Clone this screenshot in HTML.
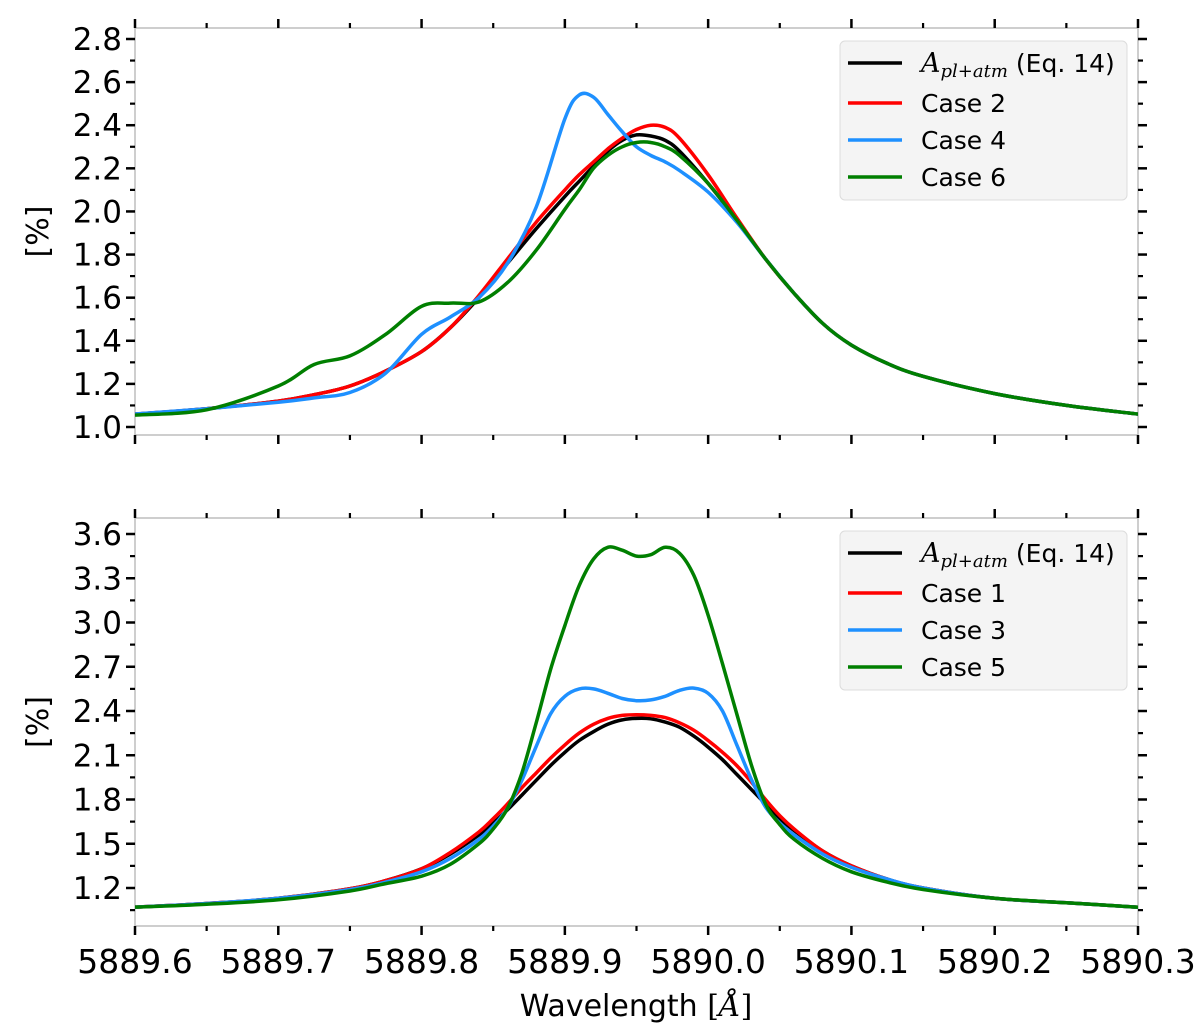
<!DOCTYPE html>
<html><head><meta charset="utf-8"><style>
body{margin:0;background:#fff}
svg{display:block;font-family:"DejaVu Sans","Liberation Sans",sans-serif}
</style></head><body>
<svg id="chart" width="1200" height="1026" viewBox="0 0 1200 1026" xmlns="http://www.w3.org/2000/svg"></svg>
<script>
// ---- data ----
const topWave=[5889.60,5889.65,5889.70,5889.725,5889.75,5889.775,5889.80,5889.82,5889.84,5889.86,5889.88,5889.90,5889.91,5889.92,5889.93,5889.94,5889.95,5889.96,5889.97,5889.98,5890.00,5890.02,5890.04,5890.06,5890.08,5890.10,5890.125,5890.15,5890.20,5890.25,5890.30];
const topBlack=[1.06,1.085,1.12,1.15,1.19,1.26,1.35,1.46,1.60,1.76,1.92,2.07,2.14,2.21,2.28,2.33,2.355,2.35,2.33,2.28,2.13,1.96,1.78,1.62,1.48,1.38,1.295,1.235,1.155,1.10,1.06];
const topCase2=[1.06,1.085,1.12,1.15,1.19,1.26,1.35,1.46,1.61,1.78,1.95,2.10,2.17,2.23,2.29,2.34,2.38,2.40,2.39,2.34,2.17,1.97,1.78,1.62,1.48,1.38,1.295,1.235,1.155,1.10,1.06];
const topCase4=[1.06,1.085,1.115,1.135,1.16,1.25,1.43,1.51,1.60,1.76,2.02,2.43,2.54,2.53,2.45,2.37,2.30,2.26,2.23,2.19,2.09,1.95,1.78,1.62,1.48,1.38,1.295,1.235,1.155,1.10,1.06];
const topCase6=[1.055,1.08,1.19,1.29,1.33,1.43,1.56,1.575,1.58,1.67,1.82,2.01,2.10,2.20,2.26,2.30,2.32,2.32,2.30,2.26,2.13,1.96,1.78,1.62,1.48,1.38,1.295,1.235,1.155,1.10,1.06];
const botWave=[5889.60,5889.65,5889.70,5889.75,5889.775,5889.80,5889.82,5889.84,5889.85,5889.86,5889.87,5889.88,5889.89,5889.90,5889.91,5889.92,5889.93,5889.94,5889.95,5889.96,5889.97,5889.98,5889.99,5890.00,5890.01,5890.02,5890.03,5890.04,5890.05,5890.06,5890.08,5890.10,5890.125,5890.15,5890.20,5890.25,5890.30];
const botBlack=[1.07,1.095,1.13,1.195,1.25,1.33,1.43,1.56,1.64,1.73,1.83,1.93,2.03,2.12,2.20,2.26,2.31,2.34,2.35,2.347,2.325,2.29,2.23,2.155,2.07,1.97,1.87,1.77,1.67,1.59,1.45,1.35,1.26,1.20,1.13,1.10,1.07];
const botCase1=[1.07,1.095,1.13,1.195,1.25,1.33,1.44,1.58,1.67,1.77,1.88,1.98,2.08,2.17,2.25,2.31,2.35,2.37,2.375,2.37,2.355,2.32,2.27,2.20,2.12,2.03,1.92,1.80,1.69,1.60,1.45,1.35,1.26,1.20,1.13,1.10,1.07];
const botCase3=[1.07,1.095,1.13,1.19,1.24,1.31,1.40,1.53,1.62,1.74,1.93,2.16,2.38,2.50,2.55,2.55,2.52,2.485,2.47,2.475,2.50,2.54,2.555,2.52,2.40,2.17,1.94,1.75,1.64,1.56,1.43,1.34,1.26,1.20,1.13,1.10,1.07];
const botCase5=[1.07,1.09,1.12,1.18,1.23,1.28,1.36,1.50,1.60,1.74,1.98,2.32,2.68,2.98,3.25,3.43,3.51,3.49,3.45,3.46,3.51,3.47,3.32,3.05,2.72,2.38,2.04,1.77,1.63,1.53,1.40,1.31,1.24,1.19,1.13,1.10,1.07];
const xTicks=[5889.6,5889.7,5889.8,5889.9,5890.0,5890.1,5890.2,5890.3];
const topYTicks=[1.0,1.2,1.4,1.6,1.8,2.0,2.2,2.4,2.6,2.8];
const botYTicks=[1.2,1.5,1.8,2.1,2.4,2.7,3.0,3.3,3.6];
const topLegend=["Case 2","Case 4","Case 6"];
const botLegend=["Case 1","Case 3","Case 5"];
// ---- drawing ----
const NS="http://www.w3.org/2000/svg";
const svg=document.getElementById('chart');
function mk(tag,attrs,parent){const e=document.createElementNS(NS,tag);for(const k in attrs)e.setAttribute(k,attrs[k]);(parent||svg).appendChild(e);return e;}
const X0=135,X1=1138;
const xScale=w=>X0+(w-5889.6)/0.7*(X1-X0);
function makeY(v0,p0,v1,p1){return v=>p0+(v-v0)/(v1-v0)*(p1-p0);}
const panels=[
 {top:28,bot:435,y:makeY(1.0,427,2.8,39),yt:topYTicks,minorStep:0.1,minorMin:0.95,minorMax:2.85,series:[topBlack,topCase2,topCase4,topCase6],wave:topWave,leg:topLegend,legY:41,name:'top'},
 {top:518,bot:926,y:makeY(1.2,888,3.6,534),yt:botYTicks,minorStep:0.15,minorMin:1.05,minorMax:3.7,series:[botBlack,botCase1,botCase3,botCase5],wave:botWave,leg:botLegend,legY:531,name:'bottom'}
];
const colors=['#000000','#ff0000','#1e90ff','#007f00'];
function smoothPath(pts){let d=`M${pts[0][0]},${pts[0][1]}`;for(let i=0;i<pts.length-1;i++){const p0=pts[Math.max(0,i-1)],p1=pts[i],p2=pts[i+1],p3=pts[Math.min(pts.length-1,i+2)];const c1=[p1[0]+(p2[0]-p0[0])/6,p1[1]+(p2[1]-p0[1])/6],c2=[p2[0]-(p3[0]-p1[0])/6,p2[1]-(p3[1]-p1[1])/6];d+=` C${c1[0].toFixed(1)},${c1[1].toFixed(1)} ${c2[0].toFixed(1)},${c2[1].toFixed(1)} ${p2[0].toFixed(1)},${p2[1].toFixed(1)}`;}return d;}
panels.forEach((P,pi)=>{
 const g=mk('g',{});
 
 
 const fr=mk('rect',{x:X0,y:P.top,width:X1-X0,height:P.bot-P.top,fill:'none',stroke:'#bdbdbd','stroke-width':1.5},g);
 
 
 for(let i=0;i<=14;i++){const w=5889.6+i*0.05,x=xScale(w),maj=i%2===0,L=maj?9:5;
  mk('line',{x1:x,x2:x,y1:P.top,y2:P.top-L,stroke:'#000','stroke-width':maj?2.5:2.2},g);
  mk('line',{x1:x,x2:x,y1:P.bot,y2:P.bot+L,stroke:'#000','stroke-width':maj?2.5:2.2},g);}
 P.yt.forEach(v=>{const y=P.y(v);
  mk('line',{x1:X0,x2:X0-9,y1:y,y2:y,stroke:'#000','stroke-width':2.5},g);
  mk('line',{x1:X1,x2:X1+9,y1:y,y2:y,stroke:'#000','stroke-width':2.5},g);
  const t=mk('text',{x:X0-13,y:y+11,'text-anchor':'end','font-size':31,fill:'#000'},g);t.textContent=v.toFixed(1);
  
  });
 for(let v=P.yt[0]-P.minorStep;v<P.minorMax;v+=P.minorStep*2){if(v<P.minorMin)continue;const y=P.y(v);if(y<P.top||y>P.bot)continue;
  mk('line',{x1:X0,x2:X0-5,y1:y,y2:y,stroke:'#000','stroke-width':2.2},g);
  mk('line',{x1:X1,x2:X1+5,y1:y,y2:y,stroke:'#000','stroke-width':2.2},g);}
 const yl=mk('text',{x:0,y:0,'font-size':30,'text-anchor':'middle',transform:`translate(48,${(P.top+P.bot)/2}) rotate(-90)`},g);yl.textContent='[%]';
 
 
 const clip=mk('clipPath',{id:'clip'+pi},g);mk('rect',{x:X0,y:P.top,width:X1-X0,height:P.bot-P.top},clip);
 [0,1,2,3].forEach(si=>{
  const pts=P.wave.map((w,i)=>[xScale(w),P.y(P.series[si][i])]);
  const p=mk('path',{d:smoothPath(pts),fill:'none',stroke:colors[si],'stroke-width':3.5,'stroke-linejoin':'round','clip-path':`url(#clip${pi})`},g);
  
  
 });
 const lg=mk('g',{},g);
 
 
 mk('rect',{x:840,y:P.legY,width:287,height:159,rx:5,fill:'#f4f4f4',stroke:'#dcdcdc','stroke-width':1},lg);
 const rowsY=[22,62,99,136];
 const labels=['',...P.leg];
 rowsY.forEach((dy,i)=>{const y=P.legY+dy;
  mk('line',{x1:848,x2:902,y1:y,y2:y,stroke:colors[i],'stroke-width':3.5},lg);
  const t=mk('text',{x:921,y:y+9,'font-size':25,fill:'#000'},lg);
  
  
  if(i===0){
   const a=mk('tspan',{'font-family':'"DejaVu Serif","Liberation Serif",serif','font-style':'italic','font-size':27},t);a.textContent='A';
   const b=mk('tspan',{'font-family':'"DejaVu Serif","Liberation Serif",serif','font-style':'italic','font-size':18,dy:5},t);b.textContent='pl+atm';
   const c=mk('tspan',{dy:-5,dx:8},t);c.textContent='(Eq. 14)';
  } else t.textContent=labels[i];
 });
});
xTicks.forEach(w=>{const t=mk('text',{x:xScale(w),y:973,'text-anchor':'middle','font-size':33});t.textContent=w.toFixed(1);
 
 });
const xl=mk('text',{x:636,y:1016,'text-anchor':'middle','font-size':30});


xl.appendChild(document.createTextNode('Wavelength '));
const s1=mk('tspan',{'font-family':'"DejaVu Serif","Liberation Serif",serif'},xl);s1.textContent='[';
const s2=mk('tspan',{'font-family':'"DejaVu Serif","Liberation Serif",serif','font-style':'italic'},xl);s2.textContent='Å';
const s3=mk('tspan',{'font-family':'"DejaVu Serif","Liberation Serif",serif'},xl);s3.textContent=']';
</script>
</body></html>
